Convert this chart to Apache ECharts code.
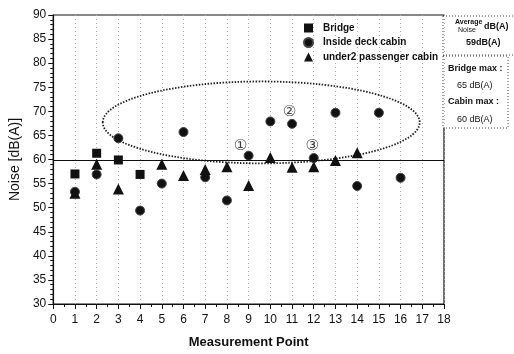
<!DOCTYPE html>
<html><head><meta charset="utf-8">
<script src="https://cdn.jsdelivr.net/npm/echarts@6/dist/echarts.min.js"></script>
<style>html,body{margin:0;padding:0;background:#fff}#c{width:514px;height:354px}</style>
</head><body><div id="c"></div>
<script>
const bridgeData = [[1,57.0],[2,61.3],[3,59.9],[4,56.9]];
const deckCabinData = [[1,53.3],[2,56.9],[3,64.4],[4,49.4],[5,55.0],[6,65.7],[7,56.3],[8,51.5],[9,60.8],[10,67.9],[11,67.4],[12,60.3],[13,69.7],[14,54.5],[15,69.7],[16,56.2]];
const passengerCabinData = [[1,53.0],[2,59.0],[3,53.9],[5,59.0],[6,56.7],[7,57.9],[8,58.5],[9,54.6],[10,60.4],[11,58.4],[12,58.5],[13,59.8],[14,61.4]];
const annotations = [[8.63,62.8,'①'],[10.88,69.8,'②'],[11.93,62.8,'③']];
const averageNoise = 59.8;
const ellipseData = [[9.58,67.7,7.3,8.5]];
const seriesNames = ['Bridge','Inside deck cabin','under2 passenger cabin'];

const chart = echarts.init(document.getElementById('c'));
const font = 'Arial, "Liberation Sans", sans-serif';
const ink = '#111';
chart.setOption({
  animation:false,
  grid:{left:52,right:70,top:15,bottom:47,show:true,borderColor:ink,borderWidth:1.2},
  legend:{
    data:[{name:seriesNames[0],icon:'rect'},{name:seriesNames[1],icon:'circle'},{name:seriesNames[2],icon:'triangle'}],
    orient:'vertical',left:298,top:18,itemWidth:9,itemHeight:9,itemGap:4,
    textStyle:{fontFamily:font,fontWeight:'bold',fontSize:10,color:ink,padding:[0,0,0,5]}
  },
  xAxis:{
    type:'value',min:0,max:18,interval:1,
    name:'Measurement Point',nameLocation:'middle',nameGap:32,
    nameTextStyle:{fontFamily:font,fontWeight:'bold',fontSize:13,color:ink},
    axisLine:{lineStyle:{color:ink,width:1.2}},
    axisTick:{inside:false,length:5,lineStyle:{color:ink}},
    minorTick:{show:true,splitNumber:2,length:3,lineStyle:{color:ink}},
    axisLabel:{fontFamily:font,fontSize:12,color:ink,margin:10},
    splitLine:{show:true,lineStyle:{color:'#aaa',type:[1,3],width:1}}
  },
  yAxis:{
    type:'value',min:30,max:90,interval:5,
    name:'Noise [dB(A)]',nameLocation:'middle',nameGap:27,
    nameTextStyle:{fontFamily:font,fontSize:14,color:ink},
    axisLine:{lineStyle:{color:ink,width:1.2}},
    axisTick:{inside:false,length:5,lineStyle:{color:ink}},
    minorTick:{show:true,splitNumber:5,length:3,lineStyle:{color:ink}},
    axisLabel:{fontFamily:font,fontSize:12,color:ink,margin:7},
    splitLine:{show:false}
  },
  series:[
    {name:seriesNames[0],type:'scatter',symbol:'rect',symbolSize:9,itemStyle:{color:ink,opacity:1},data:bridgeData,z:3,
     markLine:{silent:true,symbol:'none',label:{show:false},lineStyle:{color:ink,type:'solid',width:1.2},data:[{yAxis:averageNoise}]}},
    {name:seriesNames[1],type:'scatter',symbol:'circle',symbolSize:9,itemStyle:{color:ink,opacity:1,borderColor:'#444',borderWidth:1},data:deckCabinData,z:3},
    {name:seriesNames[2],type:'scatter',symbol:'triangle',symbolSize:11,itemStyle:{color:ink,opacity:1},data:passengerCabinData,z:3},
    {name:'annot',type:'scatter',symbolSize:0,data:annotations,silent:true,
     label:{show:true,position:'inside',formatter:p=>p.data[2],fontFamily:'"DejaVu Sans", sans-serif',fontSize:15,color:ink}},
    {name:'ellipse',type:'custom',silent:true,data:ellipseData,z:1,
     renderItem:function(params,api){
       const c = api.coord([api.value(0),api.value(1)]);
       const s = api.size([api.value(2),api.value(3)]);
       return {type:'ellipse',shape:{cx:c[0],cy:c[1],rx:s[0],ry:s[1]},
         style:{fill:'none',stroke:'#222',lineWidth:1.8,lineDash:[1.5,1.5]}};
     }}
  ],
  graphic:[
    {type:'rect',shape:{x:443,y:16,width:80,height:39},style:{fill:'#fff',stroke:'#444',lineWidth:1,lineDash:[1,2]}},
    {type:'text',left:455,top:19,style:{text:'Average',fontFamily:font,fontWeight:'bold',fontSize:7,fill:ink}},
    {type:'text',left:458,top:27,style:{text:'Noise',fontFamily:font,fontSize:7,fill:ink}},
    {type:'text',left:484,top:22,style:{text:'dB(A)',fontFamily:font,fontWeight:'bold',fontSize:9,fill:ink}},
    {type:'text',left:466,top:38,style:{text:'59dB(A)',fontFamily:font,fontWeight:'bold',fontSize:9,fill:ink}},
    {type:'rect',shape:{x:443,y:56,width:65,height:72},style:{fill:'#fff',stroke:'#444',lineWidth:1,lineDash:[1,2]}},
    {type:'text',left:448,top:64,style:{text:'Bridge max :',fontFamily:font,fontWeight:'bold',fontSize:9,fill:ink}},
    {type:'text',left:457,top:81,style:{text:'65 dB(A)',fontFamily:font,fontSize:9,fill:ink}},
    {type:'text',left:448,top:97,style:{text:'Cabin max :',fontFamily:font,fontWeight:'bold',fontSize:9,fill:ink}},
    {type:'text',left:457,top:115,style:{text:'60 dB(A)',fontFamily:font,fontSize:9,fill:ink}}
  ]
});
</script></body></html>
